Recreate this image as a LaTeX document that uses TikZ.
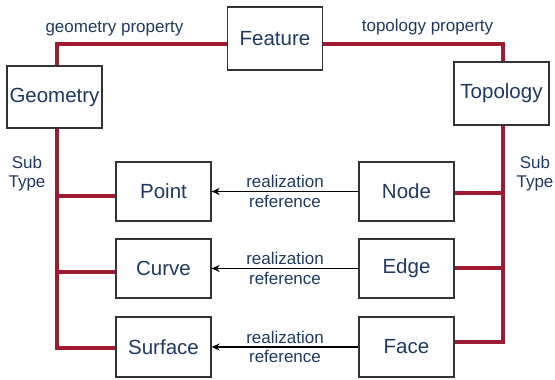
\documentclass[tikz,border=0pt]{standalone}
\usepackage{fontspec}
\setmainfont{Liberation Sans}
\usetikzlibrary{calc,arrows.meta}
\definecolor{txtblue}{HTML}{1F3A60}
\definecolor{relred}{HTML}{9E1B34}
\tikzset{
  box/.style={draw=black!80, line width=1.3pt, fill=white, minimum width=95pt, minimum height=60pt, inner sep=0pt, text=txtblue, font=\fontsize{20.5}{23}\selectfont},
  redline/.style={draw=relred, line width=4.5pt},
  realarrow/.style={draw=black, line width=1.4pt, -{Stealth[length=8pt,width=7pt]}},
  lbl/.style={text=txtblue, font=\fontsize{17}{19.5}\selectfont, inner sep=1pt},
}
\begin{document}
\begin{tikzpicture}[x=1pt,y=-1pt]
\useasboundingbox (0,0) rectangle (555,380);
% boxes
\node[box, minimum height=63pt] (feature) at (275,38.5) {Feature};
\node[box, minimum height=62pt] (geometry) at (54.5,97) {Geometry};
\node[box, minimum height=63pt] (topology) at (501.5,93.5) {Topology};
\node[box, minimum height=59pt] (point) at (163.5,191.5) {Point};
\node[box, minimum height=59pt] (curve) at (163.5,268.5) {Curve};
\node[box, minimum height=60pt] (surface) at (163.5,347) {Surface};
\node[box, minimum height=59pt] (nodeb) at (406.5,191.5) {Node};
\node[box, minimum height=59pt] (edge) at (406.5,268.5) {Edge};
\node[box, minimum height=60pt] (face) at (406.5,347) {Face};
% coordinates for red lines
\coordinate (fl) at (feature.west |- 0,44);
\coordinate (fr) at (feature.east |- 0,44);
\coordinate (gl) at (57,44);
\coordinate (tr) at (503,44);
\coordinate (gtop) at (57,0 |- geometry.north);
\coordinate (gbot) at (57,0 |- geometry.south);
\coordinate (ttop) at (503,0 |- topology.north);
\coordinate (tbot) at (503,0 |- topology.south);
% red connectors
\draw[redline] (fl) -- (gl) -- (gtop);
\draw[redline] (fr) -- (tr) -- (ttop);
\draw[redline, line join=miter] (gbot) -- (57,348) -- (surface.west |- 0,348);
\draw[redline] (57,196) -- (point.west |- 0,196);
\draw[redline] (57,272) -- (curve.west |- 0,272);
\draw[redline, line join=miter] (tbot) -- (503,342) -- (face.east |- 0,342);
\draw[redline] (503,193) -- (nodeb.east |- 0,193);
\draw[redline] (503,268) -- (edge.east |- 0,268);
% arrows
\draw[realarrow] (nodeb.west) -- (point.east) node[midway, lbl, align=center] (r1) {realization\\reference};
\draw[realarrow] (edge.west) -- (curve.east) node[midway, lbl, align=center] (r2) {realization\\reference};
\draw[realarrow] (face.west) -- (surface.east) node[midway, lbl, align=center] (r3) {realization\\reference};
% labels
\node[lbl] (gp) at (114.5,29) {geometry property};
\node[lbl] (tp) at (427.5,27) {topology property};
\node[lbl, align=center] (st1) at (27,173.5) {Sub\\Type};
\node[lbl, align=center] (st2) at (535,173.5) {Sub\\Type};
\end{tikzpicture}
\end{document}
